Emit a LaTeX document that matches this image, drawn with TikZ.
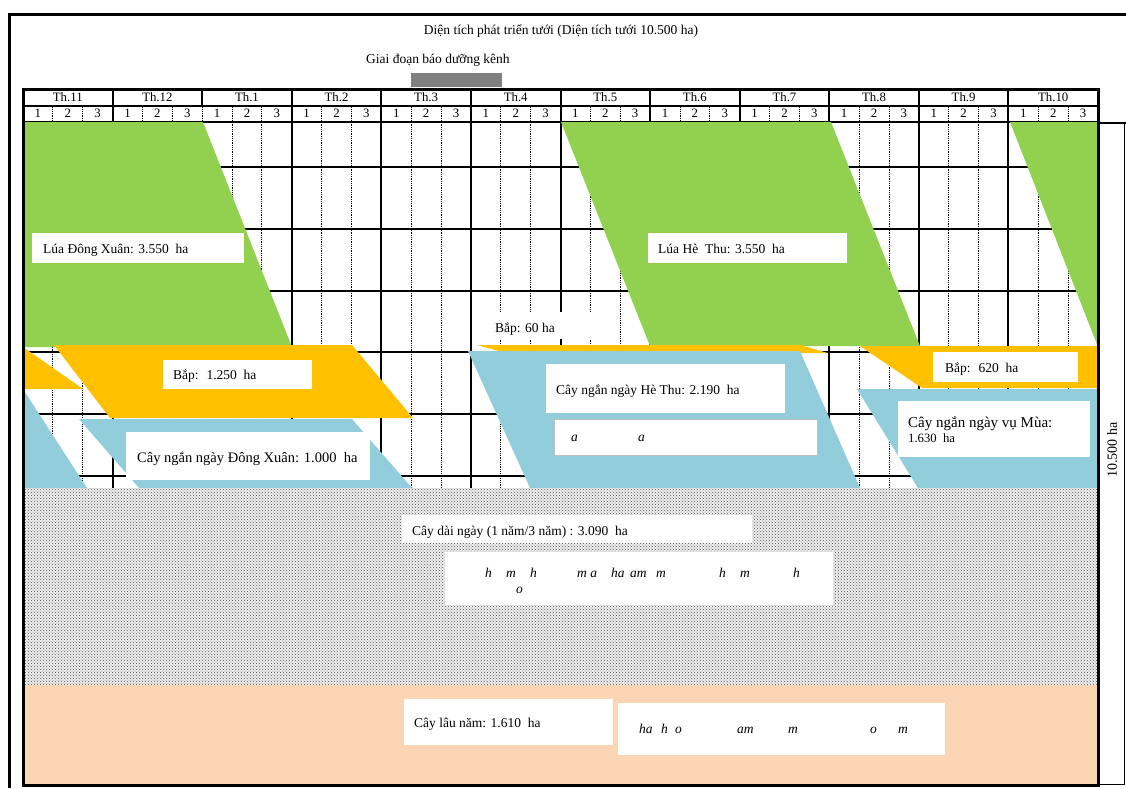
\documentclass[tikz,border=0pt]{standalone}
\usepackage{fontspec}
\setmainfont{Liberation Serif}
\usetikzlibrary{patterns}
\definecolor{cgreen}{HTML}{92D050}
\definecolor{corange}{HTML}{FFC000}
\definecolor{cblue}{HTML}{92CDDC}
\definecolor{cpeach}{HTML}{FCD5B4}
\definecolor{cbar}{HTML}{808080}
\begin{document}
\begin{tikzpicture}[x=1pt,y=-1pt,
  thk/.style={line width=2pt},
  frm/.style={line width=3pt},
  dotl/.style={line width=0.9pt, dash pattern=on 0.9pt off 0.9pt},
  lbl/.style={font=\fontsize{13.5}{15}\selectfont, inner sep=0pt, anchor=base west},
  lblc/.style={font=\fontsize{12.8}{14}\selectfont, inner sep=0pt, anchor=base},
  frag/.style={font=\fontsize{13.5}{15}\selectfont\itshape, inner sep=0pt, anchor=base west},
  wbox/.style={fill=white}]
\useasboundingbox (0,0) rectangle (1126,788);
\fill[white] (0,0) rectangle (1126,788);
% outer frame
\draw[frm] (9,788) -- (9,14) -- (1126,14);
% grid verticals
\foreach \k in {1,...,35}{
  \pgfmathsetmacro\xx{23+1075/36*\k}
  \pgfmathtruncatemacro\r{mod(\k,3)}
  \ifnum\r=0
    \ifnum\k=6
      \draw[thk] (\xx,89) -- (\xx,105.5);
      \draw[dotl] (\xx,105.5) -- (\xx,488);
    \else
      \draw[thk] (\xx,89) -- (\xx,488);
    \fi
  \else
    \draw[dotl] (\xx,105.5) -- (\xx,488);
  \fi
}
% grid horizontals
\foreach \yy in {89,105.5,122,167,229,291,352,414,476}
  \draw[thk] (23,\yy) -- (1098,\yy);
% month labels
\foreach \n [count=\i from 0] in {11,12,1,2,3,4,5,6,7,8,9,10}
  \node[lblc] (m\i) at ({23+1075/12*(\i+0.5)},101) {Th.\n};
% decade labels
\foreach \k in {0,...,35}{
  \pgfmathtruncatemacro\d{mod(\k,3)+1}
  \node[lblc] (d\k) at ({23+1075/36*(\k+0.5)},117.5) {\d};
}
% green
\fill[cgreen] (23,122) -- (203,122) -- (292,347) -- (23,347) -- cycle;
\fill[cgreen] (561,122) -- (831,122) -- (920,346) -- (650,346) -- cycle;
\fill[cgreen] (1010,122) -- (1098,122) -- (1098,347) -- cycle;
% orange
\fill[corange] (23,347) -- (83,389) -- (23,389) -- cycle;
\fill[corange] (54,345) -- (352,345) -- (413,418) -- (110,418) -- cycle;
\fill[corange] (477,345) -- (800,345) -- (828,353) -- (506,353) -- cycle;
\fill[corange] (860,346) -- (1098,346) -- (1098,388) -- (922,388) -- cycle;
% blue
\fill[cblue] (23,389) -- (87,488) -- (23,488) -- cycle;
\fill[cblue] (79,419) -- (352,419) -- (412,488) -- (139,488) -- cycle;
\fill[cblue] (468,351) -- (800,351) -- (860,488) -- (530,488) -- cycle;
\fill[cblue] (857,389) -- (1098,389) -- (1098,488) -- (918,488) -- cycle;
% long-term crops
\fill[black!6] (23,488) rectangle (1098,685);
\fill[pattern=crosshatch dots, pattern color=black!70] (23,488) rectangle (1098,685);
\fill[cpeach] (23,685) rectangle (1098,784);
% chart frame
\draw[frm] (23,784.5) -- (23,89) -- (1098,89) -- (1098,784.5);
\draw[frm] (21.5,785.5) -- (1099.5,785.5);
\draw[line width=1pt] (1098,122) rectangle (1124.5,784);
\draw[thk] (1098,122.5) -- (1126,122.5);
\node[font=\fontsize{14}{16}\selectfont, inner sep=0pt, rotate=90] (total) at (1112,450) {10.500 ha};
% title and maintenance bar
\node[font=\fontsize{13.5}{15}\selectfont, inner sep=0pt, anchor=base] (title) at (561,34) {Diện tích phát triển tưới (Diện tích tưới 10.500 ha)};
\node[lbl] (maint) at (366,63) {Giai đoạn báo dưỡng kênh};
\fill[cbar] (411,73) rectangle (502,87);
% white label boxes
\fill[wbox] (32,233) rectangle (244,263);
\node[lbl] (luadx) at (43,253) {Lúa Đông Xuân: 3.550~ ha};
\fill[wbox] (163,360) rectangle (312,389);
\node[lbl] (bap1) at (173,379) {Bắp:~ 1.250~ ha};
\fill[wbox] (126,432) rectangle (370,480);
\node[lbl, font=\fontsize{14.5}{16}\selectfont] (cnndx) at (137,462) {Cây ngắn ngày Đông Xuân: 1.000~ ha};
\fill[wbox] (480,312) rectangle (600,339);
\node[lbl] (bap2) at (495,332) {Bắp: 60 ha};
\fill[wbox] (648,233) rectangle (847,263);
\node[lbl] (luaht) at (658,253) {Lúa Hè~ Thu: 3.550~ ha};
\fill[wbox] (546,364) rectangle (785,413);
\node[lbl] (cnnht) at (556,394) {Cây ngắn ngày Hè Thu: 2.190~ ha};
\filldraw[fill=white, draw=black!25, line width=1pt] (554,419) rectangle (817,455);
\node[frag] (fa1) at (571,441) {a};
\node[frag] (fa2) at (638,441) {a};
\fill[wbox] (933,352) rectangle (1078,382);
\node[lbl] (bap3) at (945,372) {Bắp:~ 620~ ha};
\fill[wbox] (898,401) rectangle (1090,457);
\node[lbl, font=\fontsize{15}{17}\selectfont] (cnnvm) at (908,427) {Cây ngắn ngày vụ Mùa:};
\node[lbl, font=\fontsize{12.7}{14}\selectfont] (cnnvm2) at (908,442) {1.630~ ha};
\fill[wbox] (402,515) rectangle (752,543);
\node[lbl] (cdn) at (412,535) {Cây dài ngày (1 năm/3 năm) : 3.090~ ha};
\fill[wbox] (445,552) rectangle (833,605);
\node[frag] (f1) at (485,577) {h};
\node[frag] (f2) at (506,577) {m};
\node[frag] (f3) at (530,577) {h};
\node[frag] (f4) at (577,577) {m a};
\node[frag] (f5) at (611,577) {ha};
\node[frag] (f6) at (630,577) {am};
\node[frag] (f7) at (656,577) {m};
\node[frag] (f8) at (719,577) {h};
\node[frag] (f9) at (740,577) {m};
\node[frag] (f10) at (793,577) {h};
\node[frag] (f11) at (516,593) {o};
\fill[wbox] (404,699) rectangle (613,745);
\node[lbl] (cln) at (414,727) {Cây lâu năm: 1.610~ ha};
\fill[wbox] (618,703) rectangle (945,755);
\node[frag] (g1) at (639,733) {ha};
\node[frag] (g2) at (661,733) {h};
\node[frag] (g3) at (675,733) {o};
\node[frag] (g4) at (737,733) {am};
\node[frag] (g5) at (788,733) {m};
\node[frag] (g6) at (870,733) {o};
\node[frag] (g7) at (898,733) {m};
\end{tikzpicture}
\end{document}
